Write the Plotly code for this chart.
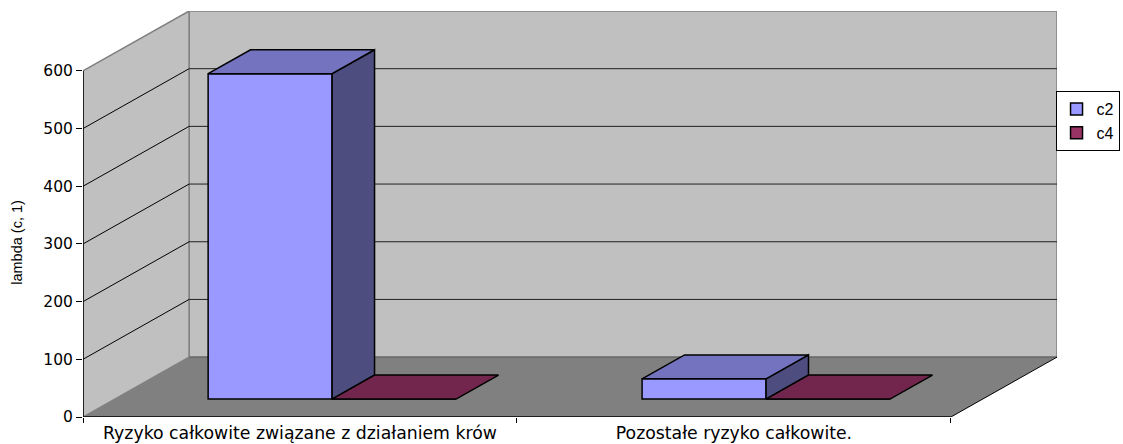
import plotly.graph_objects as go

categories = ["Ryzyko całkowite związane z działaniem krów", "Pozostałe ryzyko całkowite."]
series_names = ["c2", "c4"]
c2_values = [564, 35]
c4_values = [0, 0]
y_ticks = [0, 100, 200, 300, 400, 500, 600]
y_title = "lambda (c, 1)"

FONT = "Liberation Sans"
WIDE = "DejaVu Sans"
DX, DY = 0.2445, 103.8   # oblique shift of the full floor depth, in axis units
GAP = 0.215
BAR_W = 0.2857
D0, D1 = 0.3, 0.7        # bar depth span inside the floor
EDGE = 1.5


def P(x, v, d):
    return x + d * DX, v + d * DY


def path(pts):
    return "M" + "L".join(f"{a:.4f},{b:.4f}" for a, b in pts) + "Z"


def line(p, q, color="black", width=1):
    return dict(type="line", xref="x", yref="y", x0=p[0], y0=p[1], x1=q[0], y1=q[1],
                line=dict(color=color, width=width), layer="below")


n = len(categories)
top = y_ticks[-1]
shapes = [
    dict(type="path", xref="x", yref="y", path=path([P(0, 0, 1), P(n, 0, 1), P(n, top, 1), P(0, top, 1)]),
         fillcolor="#C0C0C0", line=dict(color="#808080", width=1.5), layer="below"),
    dict(type="path", xref="x", yref="y", path=path([P(0, 0, 0), P(0, 0, 1), P(0, top, 1), P(0, top, 0)]),
         fillcolor="#C0C0C0", line=dict(color="#808080", width=1.5), layer="below"),
    dict(type="path", xref="x", yref="y", path=path([P(0, 0, 0), P(n, 0, 0), P(n, 0, 1), P(0, 0, 1)]),
         fillcolor="#808080", line=dict(width=0), layer="below"),
]
for t in y_ticks[1:-1]:
    shapes.append(line(P(0, t, 0), P(0, t, 1)))
    shapes.append(line(P(0, t, 1), P(n, t, 1), color="#202020"))
shapes.append(line(P(0, 0, 1), P(n, 0, 1), color="#606060"))
shapes.append(line(P(n, 0, 0), P(n, 0, 1)))
shapes.append(line(P(0, 0, 0), P(n, 0, 0), width=1.5))
shapes.append(line(P(0, 0, 0), P(0, top, 0), width=1.5))

fig = go.Figure()

series = [
    (series_names[0], c2_values, 0, "#9999FF", "#7373BF", "#4D4D80"),
    (series_names[1], c4_values, 1, "#993366", "#73264D", "#4D1A33"),
]
for name, vals, k, front, topc, side in series:
    xs = [i + GAP + k * BAR_W + BAR_W / 2 + D0 * DX for i in range(n)]
    bases = [D0 * DY] * n
    fig.add_trace(go.Bar(x=xs, y=vals, base=bases, width=BAR_W, name=name,
                         marker=dict(color=front, line=dict(color="black", width=EDGE)),
                         hoverinfo="skip"))

for name, vals, k, front, topc, side in series:
    for i, v in enumerate(vals):
        x0 = i + GAP + k * BAR_W
        x1 = x0 + BAR_W
        if v > 0:
            s = [P(x1, 0, D0), P(x1, 0, D1), P(x1, v, D1), P(x1, v, D0), P(x1, 0, D0)]
            fig.add_trace(go.Scatter(x=[p[0] for p in s], y=[p[1] for p in s], mode="lines",
                                     fill="toself", fillcolor=side, line=dict(color="black", width=EDGE),
                                     showlegend=False, hoverinfo="skip"))
        s = [P(x0, v, D0), P(x1, v, D0), P(x1, v, D1), P(x0, v, D1), P(x0, v, D0)]
        fig.add_trace(go.Scatter(x=[p[0] for p in s], y=[p[1] for p in s], mode="lines",
                                 fill="toself", fillcolor=topc, line=dict(color="black", width=EDGE),
                                 showlegend=False, hoverinfo="skip"))

fig.update_layout(
    width=1123, height=444, autosize=False,
    paper_bgcolor="white", plot_bgcolor="white",
    margin=dict(l=83, r=66, t=11, b=26.5, pad=0, autoexpand=False),
    barmode="overlay", shapes=shapes,
    font=dict(family=FONT, color="black"),
    xaxis=dict(range=[0, n + DX], tickmode="array", tickvals=[i + 0.5 for i in range(n)], ticktext=categories,
               ticks="", showgrid=False, zeroline=False, showline=False,
               tickfont=dict(family=WIDE, size=17.3), ticklabelstandoff=4,
               minor=dict(tickmode="array", tickvals=list(range(n + 1)), ticks="outside", ticklen=5,
                          tickcolor="black", tickwidth=1, showgrid=False)),
    yaxis=dict(range=[0, top + DY], tickmode="array", tickvals=y_ticks, ticks="outside", ticklen=6,
               tickcolor="black", tickwidth=1, showgrid=False, zeroline=False, showline=False,
               tickfont=dict(family=WIDE, size=15.5)),
    legend=dict(x=0.9985, xanchor="left", y=0.803, yanchor="top", bgcolor="white",
                bordercolor="black", borderwidth=1, font=dict(family=FONT, size=16),
                traceorder="normal", itemclick=False, itemdoubleclick=False),
    annotations=[dict(text=y_title, textangle=-90, xref="paper", yref="y", x=-0.0672, y=303,
                      xanchor="center", yanchor="middle", showarrow=False,
                      font=dict(family=FONT, size=14.5))],
)

fig.write_html("out.html", config=dict(displayModeBar=False),
               post_script="document.body.style.margin='0';")
